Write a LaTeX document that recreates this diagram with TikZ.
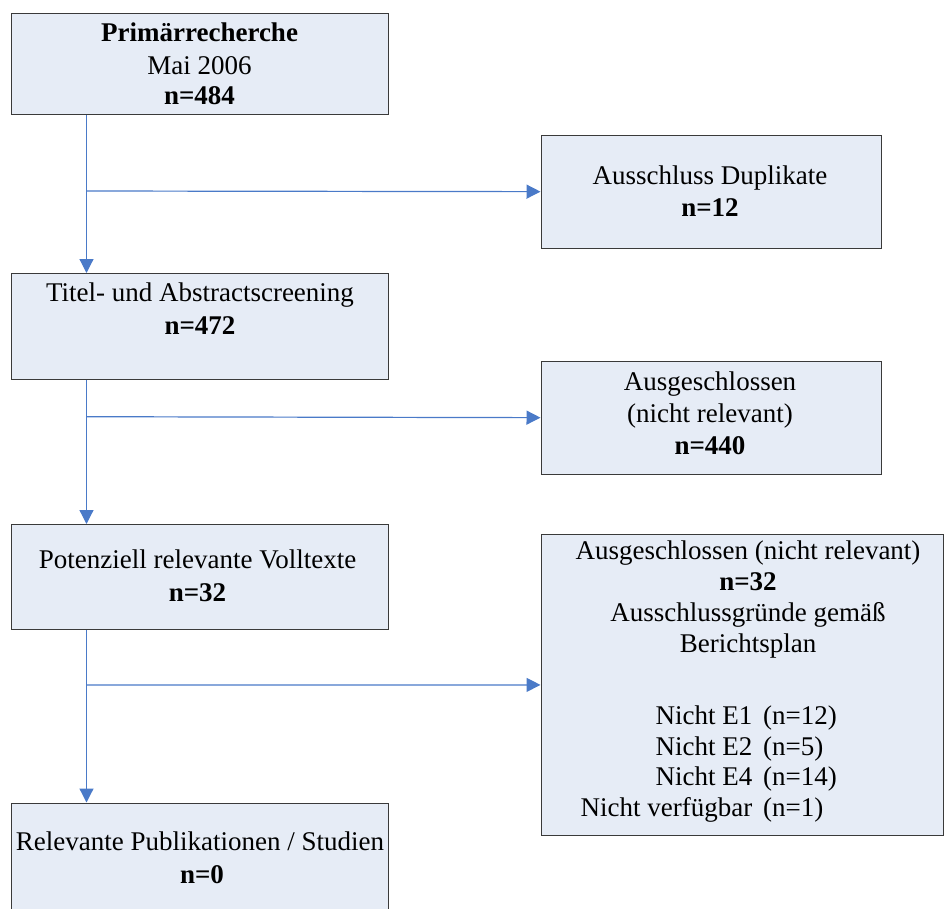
\documentclass[tikz,border=0pt]{standalone}
\usepackage{fontspec}
\setmainfont{Liberation Serif}
\usetikzlibrary{arrows.meta}
\definecolor{boxfill}{HTML}{E6ECF6}
\definecolor{boxline}{HTML}{3A3A3A}
\definecolor{flowblue}{HTML}{4A7AC8}
\tikzset{
  stage/.style={draw=boxline, line width=1.3pt, fill=boxfill, rectangle,
    anchor=north west, inner sep=0pt},
  line/.style={anchor=base, inner sep=0pt, font=\fontsize{27}{32}\selectfont},
  lineL/.style={line, anchor=base west},
  lineR/.style={line, anchor=base east},
  bold/.style={font=\fontsize{27}{32}\selectfont\bfseries},
  flow/.style={draw=flowblue, line width=1.2pt,
    -{Triangle[length=14pt,width=14pt]}},
}
\begin{document}
\begin{tikzpicture}[x=1pt,y=-1pt]
\useasboundingbox (0,0) rectangle (944,908);
\clip (0,0) rectangle (944,908);

% stage boxes
\node[stage, minimum width=377.5pt, minimum height=101.5pt] (b1) at (10.5,12.5) {};
\node[stage, minimum width=340pt,   minimum height=113pt]   (b2) at (540.5,134.5) {};
\node[stage, minimum width=377.5pt, minimum height=105.5pt] (b3) at (10.5,273) {};
\node[stage, minimum width=340pt,   minimum height=113pt]   (b4) at (540.5,360.5) {};
\node[stage, minimum width=377.5pt, minimum height=105pt]   (b5) at (10.5,524) {};
\node[stage, minimum width=402pt,   minimum height=301.5pt] (b6) at (540.5,533.5) {};
\node[stage, minimum width=377.5pt, minimum height=115pt]   (b7) at (10.5,802.5) {};

% box texts
\node[line, bold] (t1a) at (199.5,41) {Primärrecherche};
\node[line]       (t1b) at (199.5,74) {Mai 2006};
\node[line, bold] (t1c) at (199.5,104) {n=484};

\node[line]       (t2a) at (710,184) {Ausschluss Duplikate};
\node[line, bold] (t2b) at (710,216) {n=12};

\node[line]       (t3a) at (200,301) {Titel- und Abstractscreening};
\node[line, bold] (t3b) at (200,334) {n=472};

\node[line]       (t4a) at (710,390) {Ausgeschlossen};
\node[line]       (t4b) at (710,422) {(nicht relevant)};
\node[line, bold] (t4c) at (710,454) {n=440};

\node[line]       (t5a) at (197.5,568) {Potenziell relevante Volltexte};
\node[line, bold] (t5b) at (197.5,601.5) {n=32};

\node[line]       (t6a) at (748,559) {Ausgeschlossen (nicht relevant)};
\node[line, bold] (t6b) at (748,590) {n=32};
\node[line]       (t6c) at (748,621) {Ausschlussgründe gemäß};
\node[line]       (t6d) at (748,652) {Berichtsplan};
\node[lineR] (r1a) at (752.5,724) {Nicht E1};
\node[lineL] (r1b) at (763,724) {(n=12)};
\node[lineR] (r2a) at (752.5,755) {Nicht E2};
\node[lineL] (r2b) at (763,755) {(n=5)};
\node[lineR] (r3a) at (752.5,785.5) {Nicht E4};
\node[lineL] (r3b) at (763,785.5) {(n=14)};
\node[lineR] (r4a) at (752.5,816) {Nicht verfügbar};
\node[lineL] (r4b) at (763,816) {(n=1)};

\node[line]       (t7a) at (200,850) {Relevante Publikationen / Studien};
\node[line, bold] (t7b) at (202,883) {n=0};

% branch points
\coordinate (j1) at (86.5,191);
\coordinate (j2) at (86.5,416.7);
\coordinate (j3) at (86.5,685);

% connectors
\draw[flow] (j1 |- b1.south) -- (j1 |- b3.north);
\draw[flow] (j1) -- (b2.west);
\draw[flow] (j2 |- b3.south) -- (j2 |- b5.north);
\draw[flow] (j2) -- (b4.west);
\draw[flow] (j3 |- b5.south) -- (j3 |- b7.north);
\draw[flow] (j3) -- (b6.west);
\end{tikzpicture}
\end{document}
